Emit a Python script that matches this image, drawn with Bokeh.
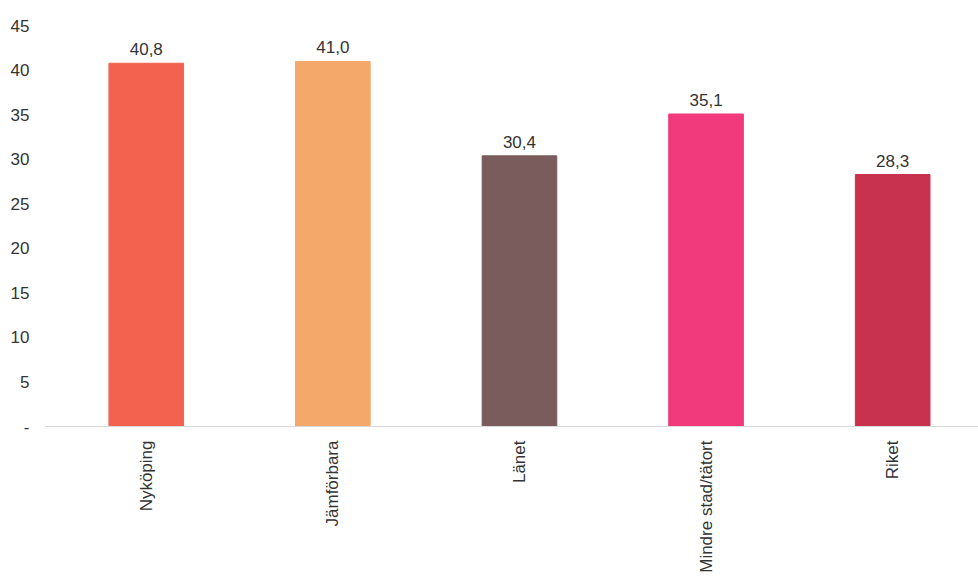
import math
from bokeh.plotting import figure
from bokeh.models import ColumnDataSource, FixedTicker, Range1d, LabelSet
from bokeh.core.properties import value
from bokeh.embed import file_html
from bokeh.resources import INLINE

categories = ["Nyköping", "Jämförbara", "Länet", "Mindre stad/tätort", "Riket"]
values = [40.8, 41.0, 30.4, 35.1, 28.3]
colors = ["#F2624E", "#F4A96A", "#7A5C5C", "#F13A7B", "#C9324E"]
y_ticks = [0, 5, 10, 15, 20, 25, 30, 35, 40, 45]

positions = list(range(len(categories)))
source = ColumnDataSource(dict(
    x=positions,
    top=values,
    color=colors,
    label=[f"{v:.1f}".replace(".", ",") for v in values],
))

p = figure(
    width=978, height=580,
    x_range=Range1d(-0.54, 4.46),
    y_range=Range1d(0, 45.6),
    output_backend="svg", toolbar_location=None,
    min_border_left=45, min_border_right=0,
    min_border_top=20, min_border_bottom=154,
)

p.vbar(x="x", top="top", width=0.40, bottom=0, color="color", source=source)

labels = LabelSet(
    x="x", y="top", text="label", source=source,
    text_align="center", text_baseline="bottom", y_offset=8,
    text_font=value("Liberation Sans"), text_font_size="17px", text_color="#333333",
)
p.add_layout(labels)

# x axis: category names, reading bottom to top
p.xaxis.ticker = FixedTicker(ticks=positions)
p.xaxis.major_label_overrides = {i: c for i, c in enumerate(categories)}
p.xaxis.major_label_orientation = math.pi / 2
p.xaxis.major_label_text_font = "Liberation Sans"
p.xaxis.major_label_text_font_size = "17px"
p.xaxis.major_label_text_color = "#333333"
p.xaxis.major_label_standoff = 8
p.xaxis.axis_line_color = "#D9D9D9"
p.xaxis.axis_line_width = 1
p.xaxis.major_tick_line_color = None
p.xaxis.minor_tick_line_color = None

# y axis: labels only
p.yaxis.ticker = FixedTicker(ticks=y_ticks)
p.yaxis.major_label_overrides = {0: "-"}
p.yaxis.major_label_text_font = "Liberation Sans"
p.yaxis.major_label_text_font_size = "17px"
p.yaxis.major_label_text_color = "#333333"
p.yaxis.major_label_standoff = 10
p.yaxis.axis_line_color = None
p.yaxis.major_tick_line_color = None
p.yaxis.minor_tick_line_color = None

p.xgrid.grid_line_color = None
p.ygrid.grid_line_color = None
p.outline_line_color = None
p.background_fill_color = "white"
p.border_fill_color = "white"

open("out.html", "w").write(file_html(p, INLINE))
